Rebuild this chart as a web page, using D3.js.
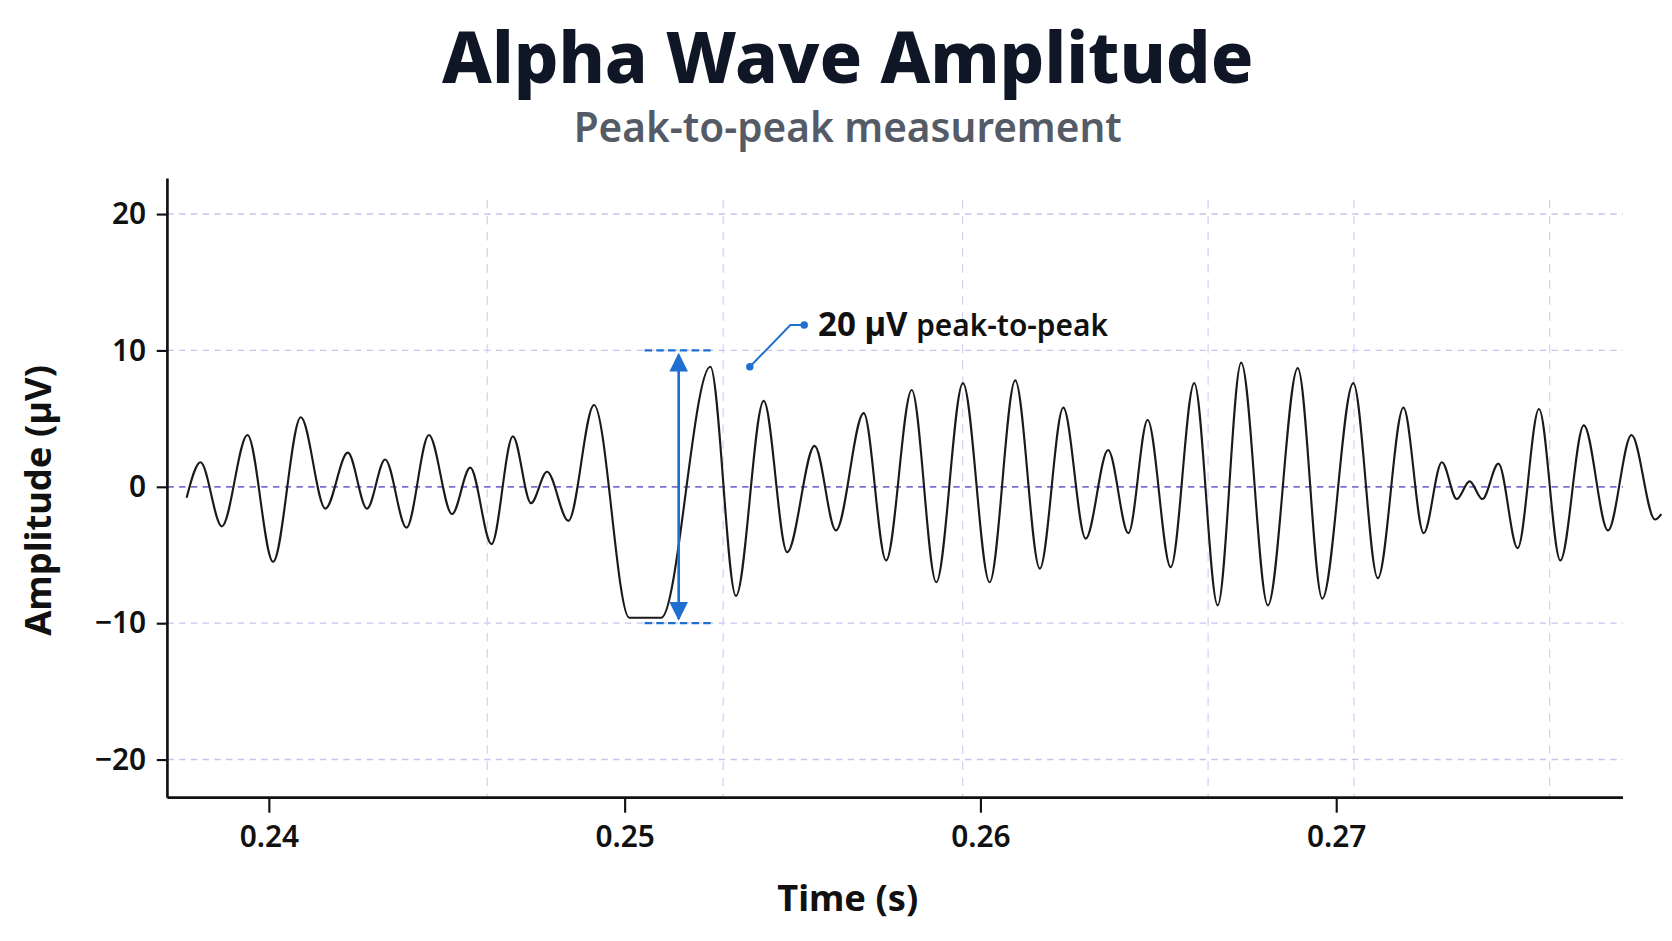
<!DOCTYPE html>
<html>
<head>
<meta charset="utf-8">
<script src="https://cdn.jsdelivr.net/npm/d3@7"></script>
<style>
  body { margin: 0; background: #fff; }
  svg { display: block; font-family: "Noto Sans", "Open Sans", sans-serif; }
</style>
</head>
<body>
<svg id="chart" width="1672" height="941" viewBox="0 0 1568 880" preserveAspectRatio="none"></svg>
<script>
// Extrema of the trace (time s, amplitude µV)
const times = [0.23769, 0.23808, 0.23868, 0.23940, 0.24012, 0.24090, 0.24159, 0.24222, 0.24276, 0.24327,
  0.24387, 0.24450, 0.24515, 0.24566, 0.24626, 0.24686, 0.24737, 0.24782, 0.24842, 0.24914,
  0.25013, 0.25103, 0.25241, 0.25313, 0.25391, 0.25457, 0.25534, 0.25594, 0.25672, 0.25735,
  0.25807, 0.25876, 0.25951, 0.26026, 0.26098, 0.26167, 0.26233, 0.26296, 0.26359, 0.26416,
  0.26470, 0.26535, 0.26601, 0.26667, 0.26733, 0.26808, 0.26892, 0.26961, 0.27048, 0.27117,
  0.27189, 0.27246, 0.27297, 0.27339, 0.27375, 0.27411, 0.27456, 0.27510, 0.27570, 0.27630,
  0.27696, 0.27764, 0.27830, 0.27896, 0.27914];
const amps = [-0.8, 1.8, -2.9, 3.8, -5.5, 5.1, -1.6, 2.5, -1.6, 2.0,
  -3.0, 3.8, -2.0, 1.4, -4.2, 3.7, -1.2, 1.1, -2.5, 6.0,
  -9.6, -9.6, 8.8, -8.0, 6.3, -4.8, 3.0, -3.2, 5.4, -5.4,
  7.1, -7.0, 7.6, -7.0, 7.8, -6.0, 5.8, -3.8, 2.7, -3.4,
  4.9, -5.9, 7.6, -8.7, 9.1, -8.7, 8.7, -8.2, 7.6, -6.7,
  5.8, -3.4, 1.8, -0.9, 0.4, -0.9, 1.7, -4.5, 5.7, -5.4,
  4.5, -3.2, 3.8, -2.4, -2.0];

const xTicks = [0.24, 0.25, 0.26, 0.27];
const yTicks = [-20, -10, 0, 10, 20];
const xGrid = [0.24614, 0.25277, 0.2595, 0.2664, 0.2705, 0.2760];

const annotTime = 0.25152;
const annotTop = 10, annotBottom = -10;
const calloutPoint = [0.25352, 8.8];

const svg = d3.select('#chart');
const pLeft = 157, pRight = 1522, pTop = 167, pBottom = 746;

const x = d3.scaleLinear().domain([0.23715, 0.27806]).range([pLeft, pRight]);
const y = d3.scaleLinear().domain([-22.8, 22.6]).range([pBottom, pTop]);

// grid
svg.append('g').selectAll('line').data(yTicks).enter().append('line')
  .attr('x1', pLeft).attr('x2', pRight)
  .attr('y1', d => y(d)).attr('y2', d => y(d))
  .attr('stroke', d => d === 0 ? '#7b6fd0' : '#c9c3f0')
  .attr('stroke-width', d => d === 0 ? 1.6 : 1.3)
  .attr('stroke-dasharray', '6,5');
svg.append('g').selectAll('line').data(xGrid).enter().append('line')
  .attr('x1', d => x(d)).attr('x2', d => x(d))
  .attr('y1', pTop + 20).attr('y2', pBottom)
  .attr('stroke', '#d6d2f3').attr('stroke-width', 1.2)
  .attr('stroke-dasharray', '8,7');

// axes
const xAxis = svg.append('g').attr('transform', `translate(0,${pBottom})`)
  .call(d3.axisBottom(x).tickValues(xTicks).tickSize(14).tickPadding(12).tickFormat(d3.format('.2f')));
const yAxis = svg.append('g').attr('transform', `translate(${pLeft},0)`)
  .call(d3.axisLeft(y).tickValues(yTicks).tickSize(10).tickPadding(10).tickFormat(d => d < 0 ? '\u2212' + Math.abs(d) : d));
[xAxis, yAxis].forEach(a => {
  a.select('.domain').attr('stroke', '#111').attr('stroke-width', 2.5);
  a.selectAll('.tick line').attr('stroke', '#111').attr('stroke-width', 2);
  a.selectAll('text').attr('font-size', 28).attr('font-weight', 600).attr('fill', '#111')
    .attr('font-family', '"Noto Sans", sans-serif');
});
yAxis.select('.domain').attr('d', `M0,${pTop}V${pBottom}`);
xAxis.select('.domain').attr('d', `M${pLeft},0H${pRight}`);

// trace
const pts = times.map((t, i) => [t, amps[i]]);
svg.append('path').datum(pts)
  .attr('d', d3.line().x(d => x(d[0])).y(d => y(d[1])).curve(d3.curveMonotoneX))
  .attr('fill', 'none').attr('stroke', '#1a1a1a').attr('stroke-width', 2);

// peak-to-peak annotation
const blue = '#1f6fd1';
const defs = svg.append('defs');
defs.append('marker').attr('id', 'arr').attr('viewBox', '0 0 10 10')
  .attr('refX', 9).attr('refY', 5).attr('markerWidth', 7).attr('markerHeight', 7)
  .attr('orient', 'auto-start-reverse')
  .append('path').attr('d', 'M0,0L10,5L0,10z').attr('fill', blue);
[annotTop, annotBottom].forEach(v => {
  svg.append('line').attr('x1', x(annotTime) - 32).attr('x2', x(annotTime) + 33)
    .attr('y1', y(v)).attr('y2', y(v))
    .attr('stroke', blue).attr('stroke-width', 2).attr('stroke-dasharray', '7,4');
});
svg.append('line').attr('x1', x(annotTime)).attr('x2', x(annotTime))
  .attr('y1', y(annotTop) + 4).attr('y2', y(annotBottom) - 4)
  .attr('stroke', blue).attr('stroke-width', 2.5)
  .attr('marker-start', 'url(#arr)').attr('marker-end', 'url(#arr)');

const cx = x(calloutPoint[0]), cy = y(calloutPoint[1]);
svg.append('path').attr('d', `M${cx},${cy}L${cx + 38},${cy - 39}L${cx + 51},${cy - 39}`)
  .attr('fill', 'none').attr('stroke', blue).attr('stroke-width', 1.8);
svg.append('circle').attr('cx', cx).attr('cy', cy).attr('r', 3.5).attr('fill', blue);
svg.append('circle').attr('cx', cx + 51).attr('cy', cy - 39).attr('r', 3.5).attr('fill', blue);
const lab = svg.append('text').attr('x', cx + 64).attr('y', cy - 29).attr('fill', '#111');
lab.append('tspan').text('20 µV ').attr('font-size', 31).attr('font-weight', 700);
lab.append('tspan').text('peak-to-peak').attr('font-size', 28).attr('font-weight', 600);

// titles
svg.append('text').attr('x', 795).attr('y', 78).attr('text-anchor', 'middle')
  .attr('font-size', 66).attr('font-weight', 800).attr('fill', '#0f1626').text('Alpha Wave Amplitude');
svg.append('text').attr('x', 795).attr('y', 133).attr('text-anchor', 'middle')
  .attr('font-size', 38).attr('font-weight', 600).attr('fill', '#555b66').text('Peak-to-peak measurement');
svg.append('text').attr('x', 795).attr('y', 852).attr('text-anchor', 'middle')
  .attr('font-size', 34).attr('font-weight', 700).attr('fill', '#111').text('Time (s)');
svg.append('text').attr('transform', 'translate(48,468) rotate(-90)').attr('text-anchor', 'middle')
  .attr('font-size', 34).attr('font-weight', 700).attr('fill', '#111').text('Amplitude (µV)');
</script>
</body>
</html>
